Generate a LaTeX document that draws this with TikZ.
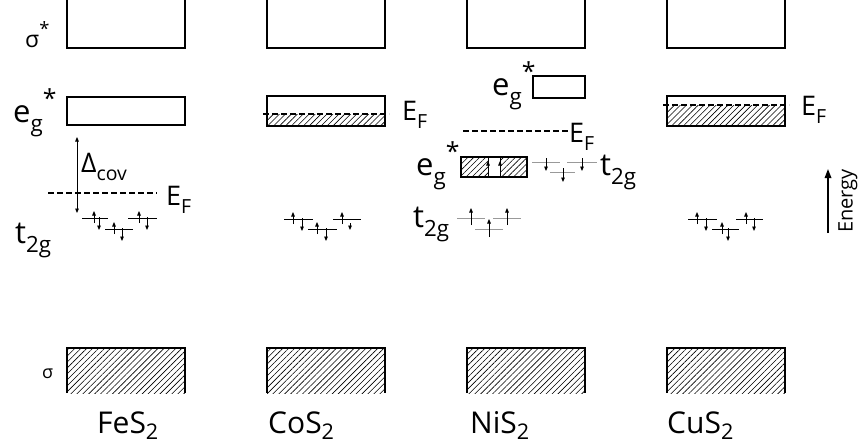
\documentclass[tikz,border=0pt]{standalone}
\usepackage{fontspec}
\setmainfont{Open Sans}
\usetikzlibrary{arrows.meta,patterns.meta}
% subscript / superscript helpers for band labels
\newcommand\lo[1]{\raisebox{-0.3em}{\fontsize{0.72em}{1em}\selectfont #1}}
\newcommand\lolow[1]{\raisebox{-0.2em}{\fontsize{0.72em}{1em}\selectfont #1}}
\newcommand\starup{\raisebox{0.48em}{\fontsize{0.8em}{1em}\selectfont *}}
\begin{document}
\begin{tikzpicture}[x=1pt,y=1pt,
  band/.style={line width=1.2pt},
  hatch/.style={pattern={Lines[angle=45,distance=4.2pt,line width=0.6pt]}},
  fermi/.style={dash pattern=on 6pt off 3pt, line width=1.3pt},
  lvlln/.style={line width=0.9pt},
  graylvl/.style={line width=0.9pt, black!40},
  spin/.style={line width=0.9pt, -{Triangle[length=4.5pt,width=3.6pt]}},
  lbl/.style={inner sep=0pt, anchor=base west},
  big/.style={lbl, font=\fontsize{31}{36}\selectfont},
  mid/.style={lbl, font=\fontsize{27}{32}\selectfont},
  small/.style={lbl, font=\fontsize{23}{26}\selectfont},
  comp/.style={lbl, font=\fontsize{30}{34}\selectfont},
]
\useasboundingbox (0,0) rectangle (859,-447);

% ---------- sigma* bands (open at the top) ----------
\foreach \x in {67,267,467,667}
  \draw[band] (\x,0) -- (\x,-48) -- (\x+118,-48) -- (\x+118,0);

% ---------- sigma bands (filled) ----------
\foreach \x in {67,267,467,667}{
  \fill[hatch] (\x,-348) rectangle (\x+118,-393);
  \draw[band] (\x,-393) -- (\x,-348) -- (\x+118,-348) -- (\x+118,-393);
}

% ---------- FeS2 ----------
\draw[band] (67,-97) rectangle (185,-125);
\draw[fermi] (48,-193) -- (157,-193);
\draw[line width=0.9pt, {Triangle[length=4.5pt,width=3.6pt]}-{Triangle[length=4.5pt,width=3.6pt]}] (77,-137) -- (77,-213);
\draw[lvlln] (82,-218) -- (108,-218);
\draw[lvlln] (105,-229) -- (133,-229);
\draw[lvlln] (128,-218) -- (157,-218);
\draw[spin] (94,-223) -- (94,-211);   \draw[spin] (99,-217) -- (99,-230);
\draw[spin] (114,-234) -- (114,-222); \draw[spin] (122,-228) -- (122,-241);
\draw[spin] (139,-223) -- (139,-211); \draw[spin] (147,-217) -- (147,-230);

\node[small] (ssFe) at (25,-47) {σ\starup};
\node[big] (egFe) at (13,-122) {e\lo{g}\starup};
\node[mid] (dcov) at (81,-172) {Δ\lo{cov}};
\node[mid] (efFe) at (166,-205) {E\lo{F}};
\node[big] (tFe) at (15,-243) {t\lo{2g}};
\node[lbl, font=\fontsize{18}{20}\selectfont] (sFe) at (42,-378) {σ};

% ---------- CoS2 ----------
\fill[hatch] (267,-114) rectangle (385,-126);
\draw[band] (267,-96) rectangle (385,-126);
\draw[fermi] (263,-114) -- (389,-114);
\node[mid] (efCo) at (402,-120) {E\lo{F}};
\draw[lvlln] (284,-219) -- (313,-219);
\draw[lvlln] (308,-229) -- (337,-229);
\draw[lvlln] (333,-219) -- (361,-219);
\draw[spin] (293,-224) -- (293,-212); \draw[spin] (302,-218) -- (302,-231);
\draw[spin] (317,-234) -- (317,-222); \draw[spin] (326,-228) -- (326,-241);
\draw[spin] (342,-224) -- (342,-212); \draw[spin] (350,-223) -- (350,-230);

% ---------- NiS2 ----------
\draw[band] (533,-76) rectangle (585,-98);
\node[big] (egNiU) at (492,-95) {e\lo{g}\starup};
\draw[fermi] (463,-131) -- (568,-131);
\node[mid] (efNi) at (569,-142) {E\lo{F}};
\fill[hatch] (461,-157) rectangle (488,-177);
\fill[hatch] (500,-157) rectangle (527,-177);
\draw[line width=0.4pt] (488,-157) -- (488,-177) (500,-157) -- (500,-177);
\draw[spin] (488,-171) -- (488,-161); \draw[spin] (500,-171) -- (500,-161);
\draw[band] (461,-157) rectangle (527,-177);
\node[big] (egNiL) at (416,-175) {e\lo{g}\starup};
\draw[graylvl] (532,-162) -- (560,-162);
\draw[graylvl] (550,-172) -- (575,-172);
\draw[graylvl] (567,-162) -- (597,-162);
\draw[spin] (546,-158) -- (546,-171);
\draw[spin] (563,-168) -- (563,-182);
\draw[spin] (582,-158) -- (582,-171);
\node[big] (tNiU) at (600,-175) {t\lo{2g}};
\draw[graylvl] (457,-218) -- (485,-218);
\draw[graylvl] (475,-229) -- (503,-229);
\draw[graylvl] (493,-218) -- (521,-218);
\draw[spin] (471,-225) -- (471,-208);
\draw[spin] (489,-237) -- (489,-219);
\draw[spin] (507,-225) -- (507,-208);
\node[big] (tNiL) at (413,-227) {t\lo{2g}};

% ---------- CuS2 ----------
\fill[hatch] (667,-105) rectangle (785,-126);
\draw[band] (667,-96) rectangle (785,-126);
\draw[fermi] (663,-105) -- (789,-105);
\node[mid] (efCu) at (801,-115) {E\lo{F}};
\draw[lvlln] (688,-219) -- (717,-219);
\draw[lvlln] (712,-229) -- (739,-229);
\draw[lvlln] (736,-219) -- (763,-219);
\draw[spin] (697,-224) -- (697,-212); \draw[spin] (706,-218) -- (706,-231);
\draw[spin] (722,-234) -- (722,-222); \draw[spin] (728,-228) -- (728,-241);
\draw[spin] (746,-224) -- (746,-212); \draw[spin] (754,-218) -- (754,-231);

% ---------- energy axis ----------
\coordinate (eLow) at (828,-233);
\coordinate (eHigh) at (828,-169);
\draw[line width=1.6pt, -{Triangle[length=9pt,width=6.5pt]}] (eLow) -- (eHigh);
\node[rotate=90, inner sep=0pt, font=\fontsize{20}{23}\selectfont] (energy) at (848,-201) {Energy};

% ---------- compound names ----------
\node[comp] (nFe) at (97,-433) {FeS\lolow{2}};
\node[comp] (nCo) at (268,-433) {CoS\lolow{2}};
\node[comp] (nNi) at (470,-433) {NiS\lolow{2}};
\node[comp] (nCu) at (667,-433) {CuS\lolow{2}};
\end{tikzpicture}
\end{document}
